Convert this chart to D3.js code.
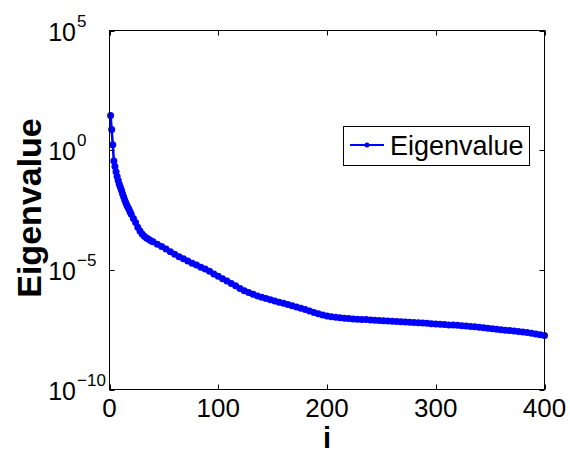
<!DOCTYPE html>
<html>
<head>
<meta charset="utf-8">
<script src="https://cdn.jsdelivr.net/npm/d3@7"></script>
<style>
  html, body { margin: 0; padding: 0; background: #fff; }
  svg { display: block; font-family: "Liberation Sans", Arial, sans-serif; }
</style>
</head>
<body>
<svg id="chart" width="570" height="453"></svg>
<script>
// ---- data (index i, log10 of eigenvalue) ----
const indices = [
  1,2,3,4,5,6,7,8,9,10,11,12,13,14,15,16,17,18,19,
  20,22,24,26,28,30,32,34,36,38,40,44,48,52,56,60,64,68,72,76,80,84,88,92,96,
  100,104,108,112,116,120,124,128,132,136,140,144,148,152,156,160,164,168,172,176,
  180,184,188,192,196,200,204,208,212,216,220,224,228,232,236,240,244,248,252,256,
  260,264,268,272,276,280,284,288,292,296,300,304,308,312,316,320,324,328,332,336,
  340,344,348,352,356,360,364,368,372,376,380,384,388,392,396,400
];
const eigenLog10 = [
  1.45,0.86,0.23,-0.45,-0.68,-0.90,-1.10,-1.27,-1.42,-1.55,-1.68,-1.82,-1.95,-2.08,-2.20,-2.30,-2.40,-2.48,-2.58,
  -2.68,-2.85,-3.02,-3.22,-3.38,-3.50,-3.60,-3.67,-3.72,-3.78,-3.83,-3.93,-4.03,-4.13,-4.24,-4.35,-4.45,-4.54,-4.63,-4.72,-4.80,-4.89,-4.97,-5.06,-5.17,
  -5.27,-5.37,-5.47,-5.57,-5.67,-5.78,-5.87,-5.95,-6.02,-6.09,-6.15,-6.20,-6.25,-6.30,-6.35,-6.40,-6.45,-6.50,-6.55,-6.60,
  -6.66,-6.72,-6.78,-6.84,-6.89,-6.93,-6.96,-6.98,-7.00,-7.02,-7.03,-7.05,-7.06,-7.07,-7.08,-7.10,-7.11,-7.12,-7.13,-7.14,
  -7.15,-7.16,-7.17,-7.18,-7.19,-7.20,-7.21,-7.22,-7.23,-7.25,-7.26,-7.27,-7.28,-7.30,-7.31,-7.32,-7.34,-7.35,-7.37,-7.38,
  -7.40,-7.42,-7.44,-7.46,-7.48,-7.50,-7.52,-7.54,-7.56,-7.58,-7.60,-7.62,-7.65,-7.68,-7.71,-7.74
];
const xTicks = [0, 100, 200, 300, 400];
const yTickExponents = [5, 0, -5, -10];
const seriesName = "Eigenvalue";
const xLabel = "i";
const yLabel = "Eigenvalue";

const data = indices.map((d, k) => ({ i: d, v: Math.pow(10, eigenLog10[k]) }));

// ---- layout ----
const svg = d3.select("#chart");
const L = 109.5, R = 544.5, T = 30.5, B = 389.5;
const x = d3.scaleLinear().domain([0, 400]).range([L, R]);
const y = d3.scaleLog().domain([1e-10, 1e5]).range([B, T]);
const blue = "#0000ff";

svg.append("rect").attr("x", 0).attr("y", 0).attr("width", 570).attr("height", 453).attr("fill", "#fff");

// ticks (inside, mirrored)
const tickLen = 5;
const axisG = svg.append("g").attr("stroke", "#000").attr("stroke-width", 1);
xTicks.forEach(t => {
  const px = Math.round(x(t)) + 0.5;
  axisG.append("line").attr("x1", px).attr("x2", px).attr("y1", B).attr("y2", B - tickLen);
  axisG.append("line").attr("x1", px).attr("x2", px).attr("y1", T).attr("y2", T + tickLen);
});
yTickExponents.forEach(e => {
  const py = Math.round(y(Math.pow(10, e))) + 0.5;
  axisG.append("line").attr("x1", L).attr("x2", L + tickLen).attr("y1", py).attr("y2", py);
  axisG.append("line").attr("x1", R).attr("x2", R - tickLen).attr("y1", py).attr("y2", py);
});

// data line + markers
const plot = svg.append("g");
plot.append("path")
  .datum(data)
  .attr("fill", "none")
  .attr("stroke", blue)
  .attr("stroke-width", 2.5)
  .attr("stroke-linejoin", "round")
  .attr("d", d3.line().x(d => x(d.i)).y(d => y(d.v)));
plot.selectAll("circle.m").data(data).enter().append("circle")
  .attr("class", "m")
  .attr("cx", d => x(d.i)).attr("cy", d => y(d.v))
  .attr("r", 3.5).attr("fill", blue);

// axes box
svg.append("rect")
  .attr("x", L).attr("y", T).attr("width", R - L).attr("height", B - T)
  .attr("fill", "none").attr("stroke", "#000").attr("stroke-width", 1);

// x tick labels
svg.append("g").selectAll("text").data(xTicks).enter().append("text")
  .attr("x", d => x(d)).attr("y", 417)
  .attr("text-anchor", "middle").attr("font-size", 26).attr("fill", "#000")
  .text(d => d);

// y tick labels (10 with superscript exponent)
const yl = svg.append("g");
yTickExponents.forEach(e => {
  const py = y(Math.pow(10, e));
  yl.append("text").attr("x", 76).attr("y", py + 10)
    .attr("text-anchor", "end").attr("font-size", 25).attr("fill", "#000").text("10");
  yl.append("text").attr("x", 77).attr("y", py - 4)
    .attr("text-anchor", "start").attr("font-size", 17).attr("fill", "#000")
    .text(e < 0 ? "\u2212" + Math.abs(e) : String(e));
});

// axis labels
svg.append("text").attr("x", 327).attr("y", 448)
  .attr("text-anchor", "middle").attr("font-size", 29).attr("font-weight", "bold")
  .text(xLabel);
svg.append("text")
  .attr("transform", "translate(41,208) rotate(-90)")
  .attr("text-anchor", "middle").attr("font-size", 34).attr("font-weight", "bold")
  .text(yLabel);

// legend
const lg = svg.append("g");
lg.append("rect").attr("x", 343.5).attr("y", 126.5).attr("width", 186).attr("height", 39)
  .attr("fill", "#fff").attr("stroke", "#000").attr("stroke-width", 1);
lg.append("line").attr("x1", 350).attr("x2", 384).attr("y1", 145).attr("y2", 145)
  .attr("stroke", blue).attr("stroke-width", 2);
lg.append("circle").attr("cx", 367).attr("cy", 145).attr("r", 2.5).attr("fill", blue);
lg.append("text").attr("x", 390).attr("y", 155).attr("font-size", 27).attr("fill", "#000")
  .text(seriesName);
</script>
</body>
</html>
